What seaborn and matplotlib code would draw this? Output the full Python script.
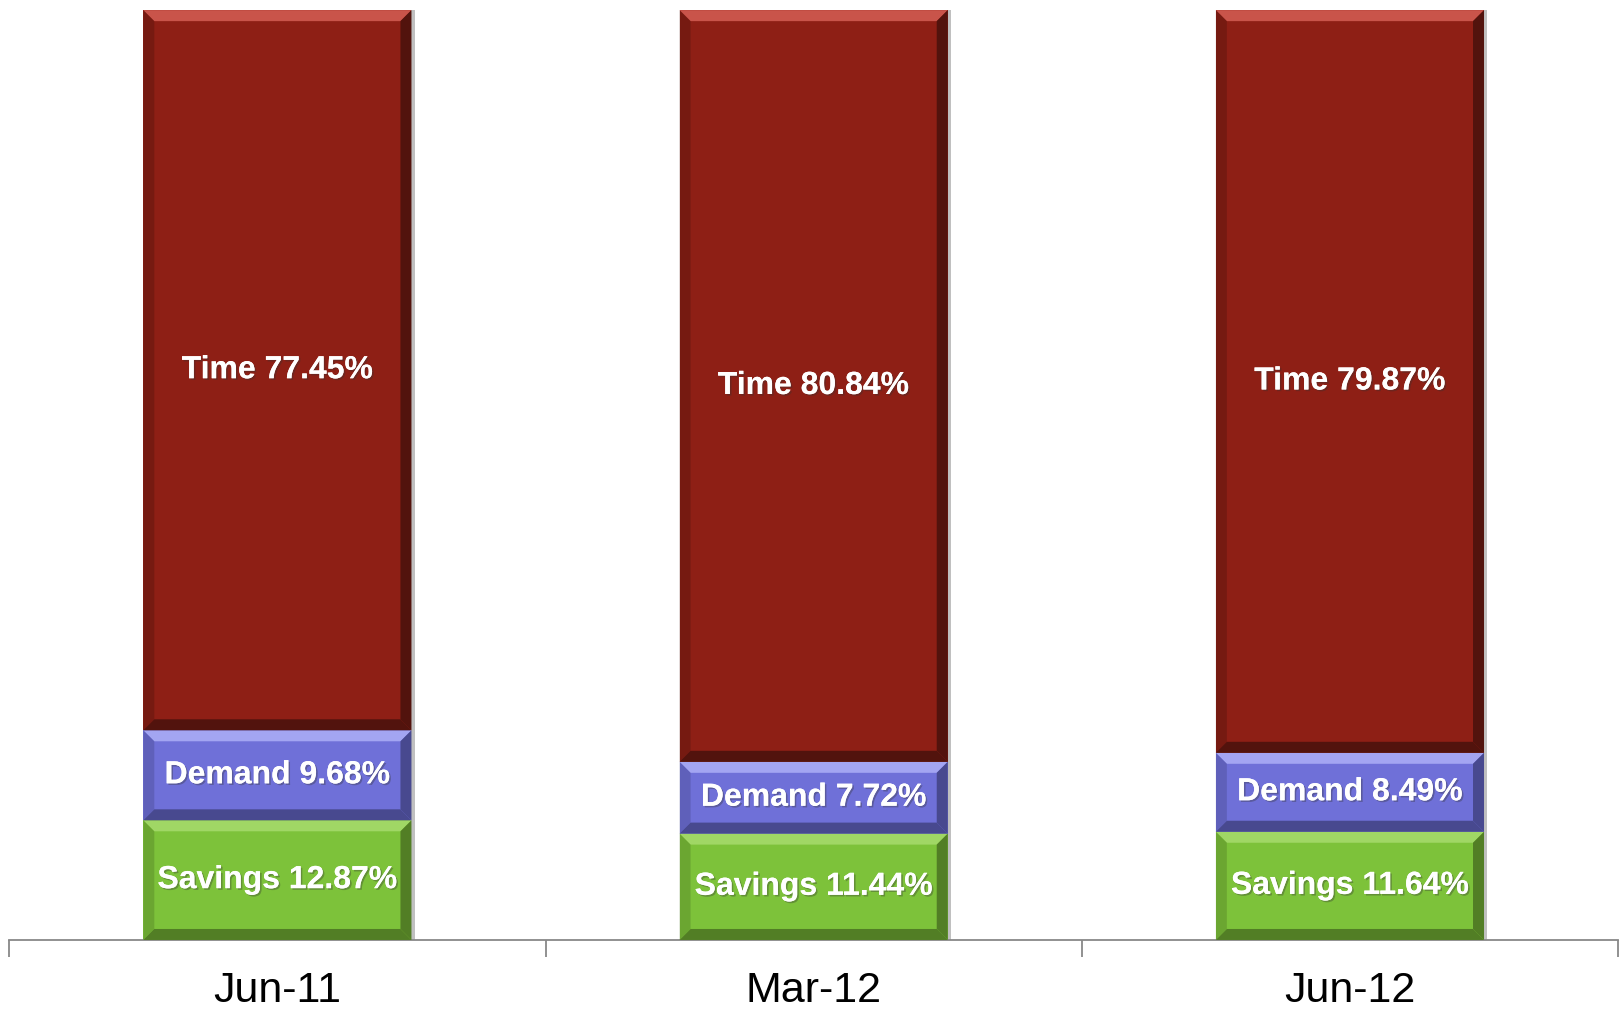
import matplotlib
matplotlib.use("Agg")
import matplotlib.pyplot as plt
import seaborn as sns
import pandas as pd
import numpy as np
from matplotlib.patches import Polygon, Rectangle
import matplotlib.patheffects as pe

categories = ["Jun-11", "Mar-12", "Jun-12"]
savings = [12.87, 11.44, 11.64]
demand = [9.68, 7.72, 8.49]
time_dep = [77.45, 80.84, 79.87]

series_names = ["Savings", "Demand", "Time"]
colors = {"Savings": "#7DC23A", "Demand": "#6F70D8", "Time": "#8E1F15"}
light = {"Savings": "#A0D765", "Demand": "#A3A5F2", "Time": "#C9544A"}
dark = {"Savings": "#527E25", "Demand": "#48498F", "Time": "#52130D"}

sns.set_theme(style="white")
plt.rcParams['font.family'] = ['Liberation Sans', 'DejaVu Sans']

df = pd.DataFrame({"cat": categories, "Savings": savings, "Demand": demand, "Time": time_dep})
df["c1"] = df["Savings"]
df["c2"] = df["Savings"] + df["Demand"]
df["c3"] = df["c2"] + df["Time"]

fig = plt.figure(figsize=(16.21, 10.14), dpi=100)
ax = fig.add_axes([0.0057, 0.073, 0.9925, 0.917])

for col, name in [("c3", "Time"), ("c2", "Demand"), ("c1", "Savings")]:
    sns.barplot(data=df, x="cat", y=col, color=colors[name], width=0.5,
                saturation=1, ax=ax, order=categories, linewidth=0, zorder=2)

ax.set_ylim(0, 100)
ax.set_xlim(-0.5, len(categories) - 0.5)
fig.canvas.draw()

inv = ax.transData.inverted()
p0 = inv.transform((0, 0)); p1 = inv.transform((11, 11))
bx = p1[0] - p0[0]; by = p1[1] - p0[1]

segs = {"Savings": (np.zeros(3), df["c1"].values),
        "Demand": (df["c1"].values, df["c2"].values),
        "Time": (df["c2"].values, df["c3"].values)}
vals = {"Savings": savings, "Demand": demand, "Time": time_dep}

for i, cat in enumerate(categories):
    x0, x1 = i - 0.25, i + 0.25
    ax.add_patch(Rectangle((x1, 0), 0.006, 100, color="#c0c0c0", zorder=1, lw=0))
    for name in series_names:
        b, t = segs[name][0][i], segs[name][1][i]
        ax.add_patch(Polygon([(x0, t), (x1, t), (x1 - bx, t - by), (x0 + bx, t - by)],
                             closed=True, color=light[name], lw=0, zorder=3))
        ax.add_patch(Polygon([(x0, b), (x1, b), (x1 - bx, b + by), (x0 + bx, b + by)],
                             closed=True, color=dark[name], lw=0, zorder=3))
        ax.add_patch(Polygon([(x0, b), (x0 + bx, b + by), (x0 + bx, t - by), (x0, t)],
                             closed=True, color=dark[name], alpha=0.4, lw=0, zorder=3))
        ax.add_patch(Polygon([(x1, b), (x1 - bx, b + by), (x1 - bx, t - by), (x1, t)],
                             closed=True, color=dark[name], lw=0, zorder=3))
        ax.text(i, (b + t) / 2, f"{name} {vals[name][i]:.2f}%", ha="center", va="center",
                color="white", fontsize=23, fontweight="bold", zorder=5,
                path_effects=[pe.withSimplePatchShadow(offset=(1.2, -1.2), shadow_rgbFace="#333333", alpha=0.35),
                              pe.Normal()])

for s in ["left", "right", "top"]:
    ax.spines[s].set_visible(False)
ax.spines["bottom"].set_color("#888888")
ax.spines["bottom"].set_linewidth(1.3)
ax.set_yticks([])
ax.set_xticks([-0.5, 0.5, 1.5, 2.5], minor=False)
ax.set_xticklabels([])
ax.tick_params(axis="x", which="major", direction="out", length=12, width=1.3,
               color="#888888", bottom=True)
ax.set_xticks(range(len(categories)), minor=True)
ax.set_xticklabels(categories, minor=True, fontsize=31)
ax.tick_params(axis="x", which="minor", length=0, pad=22, labelcolor="black")
ax.set_xlabel("")
ax.set_ylabel("")

fig.savefig("out.png", dpi=100, facecolor="white")
